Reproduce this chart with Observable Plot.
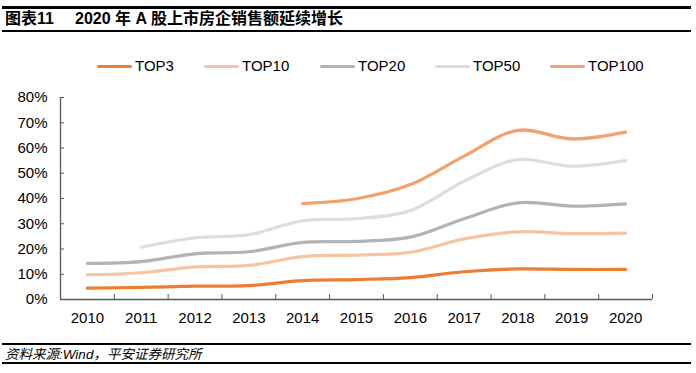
<!DOCTYPE html>
<html>
<head>
<meta charset="utf-8">
<script src="https://cdn.jsdelivr.net/npm/d3@7"></script>
<script src="https://cdn.jsdelivr.net/npm/@observablehq/plot@0.6"></script>
<style>
  html, body { margin: 0; padding: 0; background: #fff; }
  #page { position: relative; width: 696px; height: 373px; overflow: hidden; font-family: "Liberation Sans", Arial, "Noto Sans CJK SC", sans-serif; color: #000; }
  .hr { position: absolute; left: 2px; width: 689px; height: 2.5px; background: #000; }
  .title { position: absolute; top: 9px; font-size: 16px; font-weight: bold; font-family: "Liberation Sans", Arial, "Noto Sans CJK SC", sans-serif; white-space: pre; line-height: 20px; }
  #caption { position: absolute; left: 5px; top: 345.5px; font-size: 13.5px; font-style: italic; line-height: 17px; white-space: pre; font-family: "Liberation Sans", "Noto Sans CJK SC", sans-serif; }
  #legend { position: absolute; left: 0; top: 57px; width: 696px; height: 18px; }
  .item { position: absolute; top: 0; height: 18px; }
  .swatch { position: absolute; top: 7.5px; height: 3.5px; width: 35px; border-radius: 1.5px; }
  .lab { position: absolute; top: 0px; left: 38px; font-size: 15px; line-height: 18px; white-space: nowrap; }
  #chart { position: absolute; left: 0; top: 80px; }
</style>
</head>
<body>
<div id="page">
  <div class="hr" style="top:6px"></div>
  <div class="title" id="title1" style="left:5px"></div>
  <div class="title" id="title2" style="left:75px"></div>
  <div class="hr" style="top:29.5px"></div>
  <div id="legend"></div>
  <div id="chart"></div>
  <div class="hr" style="top:342.5px"></div>
  <div id="caption"></div>
  <div class="hr" style="top:361.5px"></div>
</div>
<script>
const titleLabel = "图表11";
const titleText = "2020 年 A 股上市房企销售额延续增长";
const captionText = "资料来源:Wind，平安证券研究所";

const years = [2010, 2011, 2012, 2013, 2014, 2015, 2016, 2017, 2018, 2019, 2020];
const seriesNames = ["TOP3", "TOP10", "TOP20", "TOP50", "TOP100"];
const seriesColors = ["#ED7D31", "#F8C3A0", "#B3B3B3", "#DDDDDD", "#F4A06A"];
const top3   = [4.5, 4.8, 5.3, 5.5, 7.5, 7.9, 8.7, 11.0, 12.1, 11.9, 11.9];
const top10  = [9.8, 10.6, 12.9, 13.5, 17.0, 17.6, 18.7, 24.0, 26.8, 26.1, 26.3];
const top20  = [14.3, 15.0, 18.1, 18.9, 22.6, 23.0, 24.7, 32.0, 38.3, 37.0, 37.9];
const top50  = [null, 20.7, 24.4, 25.7, 31.2, 32.0, 35.2, 46.9, 55.4, 52.8, 55.0];
const top100 = [null, null, null, null, 38.0, 39.9, 45.5, 56.8, 67.0, 63.6, 66.3];
const yTicks = [0, 10, 20, 30, 40, 50, 60, 70, 80];
const yTickLabels = ["0%", "10%", "20%", "30%", "40%", "50%", "60%", "70%", "80%"];

const allSeries = [top3, top10, top20, top50, top100];
const rows = [];
allSeries.forEach((vals, i) => {
  vals.forEach((v, j) => {
    if (v != null) rows.push({series: seriesNames[i], year: years[j], value: v});
  });
});
const boundaries = years.map(y => y - 0.5).concat([years[years.length - 1] + 0.5]);

document.getElementById("title1").textContent = titleLabel;
document.getElementById("title2").textContent = titleText;
document.getElementById("caption").textContent = captionText;

// legend
const legendX = [97, 204, 320, 435, 550];
const legend = document.getElementById("legend");
seriesNames.forEach((name, i) => {
  const it = document.createElement("div");
  it.className = "item";
  it.style.left = legendX[i] + "px";
  const sw = document.createElement("div");
  sw.className = "swatch";
  sw.style.background = seriesColors[i];
  const lb = document.createElement("div");
  lb.className = "lab";
  lb.textContent = name;
  it.appendChild(sw); it.appendChild(lb);
  legend.appendChild(it);
});

const axisColor = "#595959";
const chart = Plot.plot({
  width: 696,
  height: 250,
  marginLeft: 60,
  marginRight: 44,
  marginTop: 17,
  marginBottom: 31,
  style: {fontFamily: '"Liberation Sans", Arial, sans-serif', fontSize: "15px", color: "#000", background: "transparent", overflow: "visible"},
  x: {domain: [boundaries[0], boundaries[boundaries.length - 1]], axis: null},
  y: {domain: [0, 80], axis: null},
  color: {domain: seriesNames, range: seriesColors},
  marks: [
    Plot.axisY(yTicks, {tickSize: 0, tickPadding: 13, tickFormat: d => yTickLabels[yTicks.indexOf(d)], fontSize: 15, fill: "#000", label: null}),
    Plot.axisY(yTicks, {tickSize: 4, dx: 4, text: null, stroke: axisColor, label: null}),
    Plot.axisX(years, {tickSize: 0, tickPadding: 13, tickFormat: d => String(d), fontSize: 15, fill: "#000", label: null}),
    Plot.axisX(boundaries, {tickSize: 5, dy: -5, text: null, stroke: axisColor, label: null}),
    Plot.ruleX([boundaries[0]], {stroke: axisColor, strokeWidth: 1.3}),
    Plot.ruleY([0], {stroke: axisColor, strokeWidth: 1.3}),
    Plot.line(rows, {x: "year", y: "value", z: "series", stroke: "series", strokeWidth: 3.2, curve: "catmull-rom", strokeLinecap: "round"})
  ]
});
document.getElementById("chart").appendChild(chart);
</script>
</body>
</html>
